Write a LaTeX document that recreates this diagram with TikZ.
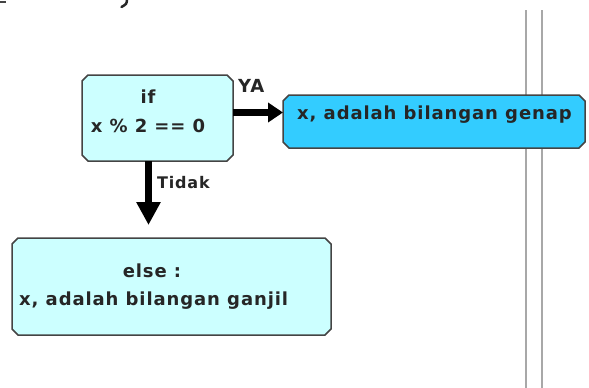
\documentclass[tikz,border=0pt]{standalone}
\usepackage{fontspec}
\setmainfont{DejaVu Sans}[LetterSpace=5]
\usetikzlibrary{calc,arrows.meta}
\definecolor{boxlight}{HTML}{CCFFFF}
\definecolor{boxblue}{HTML}{33CCFF}
\definecolor{edge}{HTML}{444444}
\definecolor{ink}{HTML}{262626}
\definecolor{rail}{HTML}{A8A8A8}
\tikzset{
  anchorbox/.style={rectangle, draw=none, inner sep=0pt, outer sep=0pt},
  chamfer/.style={draw=edge, line width=1.5pt, line join=miter},
  lbl/.style={anchor=base, text=ink, inner sep=0pt, font=\fontsize{18}{22}\selectfont\bfseries},
  flowarrow/.style={line width=7pt, draw=black},
}
% outline of a box with cut corners, following the named node's corners
\newcommand\cutbox[3]{%
  \filldraw[chamfer, fill=#2]
    ($(#1.north west)+(#3,0)$) -- ($(#1.north east)+(-#3,0)$) --
    ($(#1.north east)+(0,#3)$) -- ($(#1.south east)+(0,-#3)$) --
    ($(#1.south east)+(-#3,0)$) -- ($(#1.south west)+(#3,0)$) --
    ($(#1.south west)+(0,-#3)$) -- ($(#1.north west)+(0,#3)$) -- cycle;}
\begin{document}
\begin{tikzpicture}[x=1pt,y=-1pt]
\useasboundingbox (0,0) rectangle (589,388);
% clipped strokes along the top edge
\draw[edge, line width=1.5pt] (0,2) -- (6,2);
\draw[ink, line width=2.5pt, line cap=round] (127,0) .. controls (126.5,4) .. (121.5,7);
% double vertical rail on the right
\draw[rail, line width=2pt] (526,10) -- (526,388);
\draw[rail, line width=2pt] (542,10) -- (542,388);
% decision box
\node[anchorbox, minimum width=151pt, minimum height=86pt] (ifbox) at (157.5,118) {};
\cutbox{ifbox}{boxlight}{6}
\node[lbl] (ifkw) at (148,103) {if};
\node[lbl] (cond) at (148,132) {x \% 2 == 0};
% true branch
\node[anchorbox, minimum width=302pt, minimum height=53pt] (genap) at (434,121.5) {};
\cutbox{genap}{boxblue}{6}
\node[lbl, anchor=base west] (genaptxt) at (297,119) {x, adalah bilangan genap};
% false branch
\node[anchorbox, minimum width=319pt, minimum height=97pt] (ganjil) at (171.5,286.5) {};
\cutbox{ganjil}{boxlight}{6}
\node[lbl] (elsekw) at (152,277) {else :};
\node[lbl, anchor=base west] (ganjiltxt) at (19,305) {x, adalah bilangan ganjil};
% connectors
\coordinate (yarow) at (0,112.5);
\coordinate (dncol) at (148.5,0);
\coordinate (dntip) at (148.5,225);
\draw[flowarrow, -{Triangle[length=15pt,width=19pt]}] (ifbox.east |- yarow) -- (genap.west |- yarow);
\draw[flowarrow, -{Triangle[length=23pt,width=23pt]}] (ifbox.south -| dncol) -- (dntip);
\node[lbl, anchor=base west] (ya) at (238,92) {YA};
\node[lbl, anchor=base west, font=\fontsize{16}{20}\selectfont\bfseries] (tidak) at (157,188) {Tidak};
\end{tikzpicture}
\end{document}
